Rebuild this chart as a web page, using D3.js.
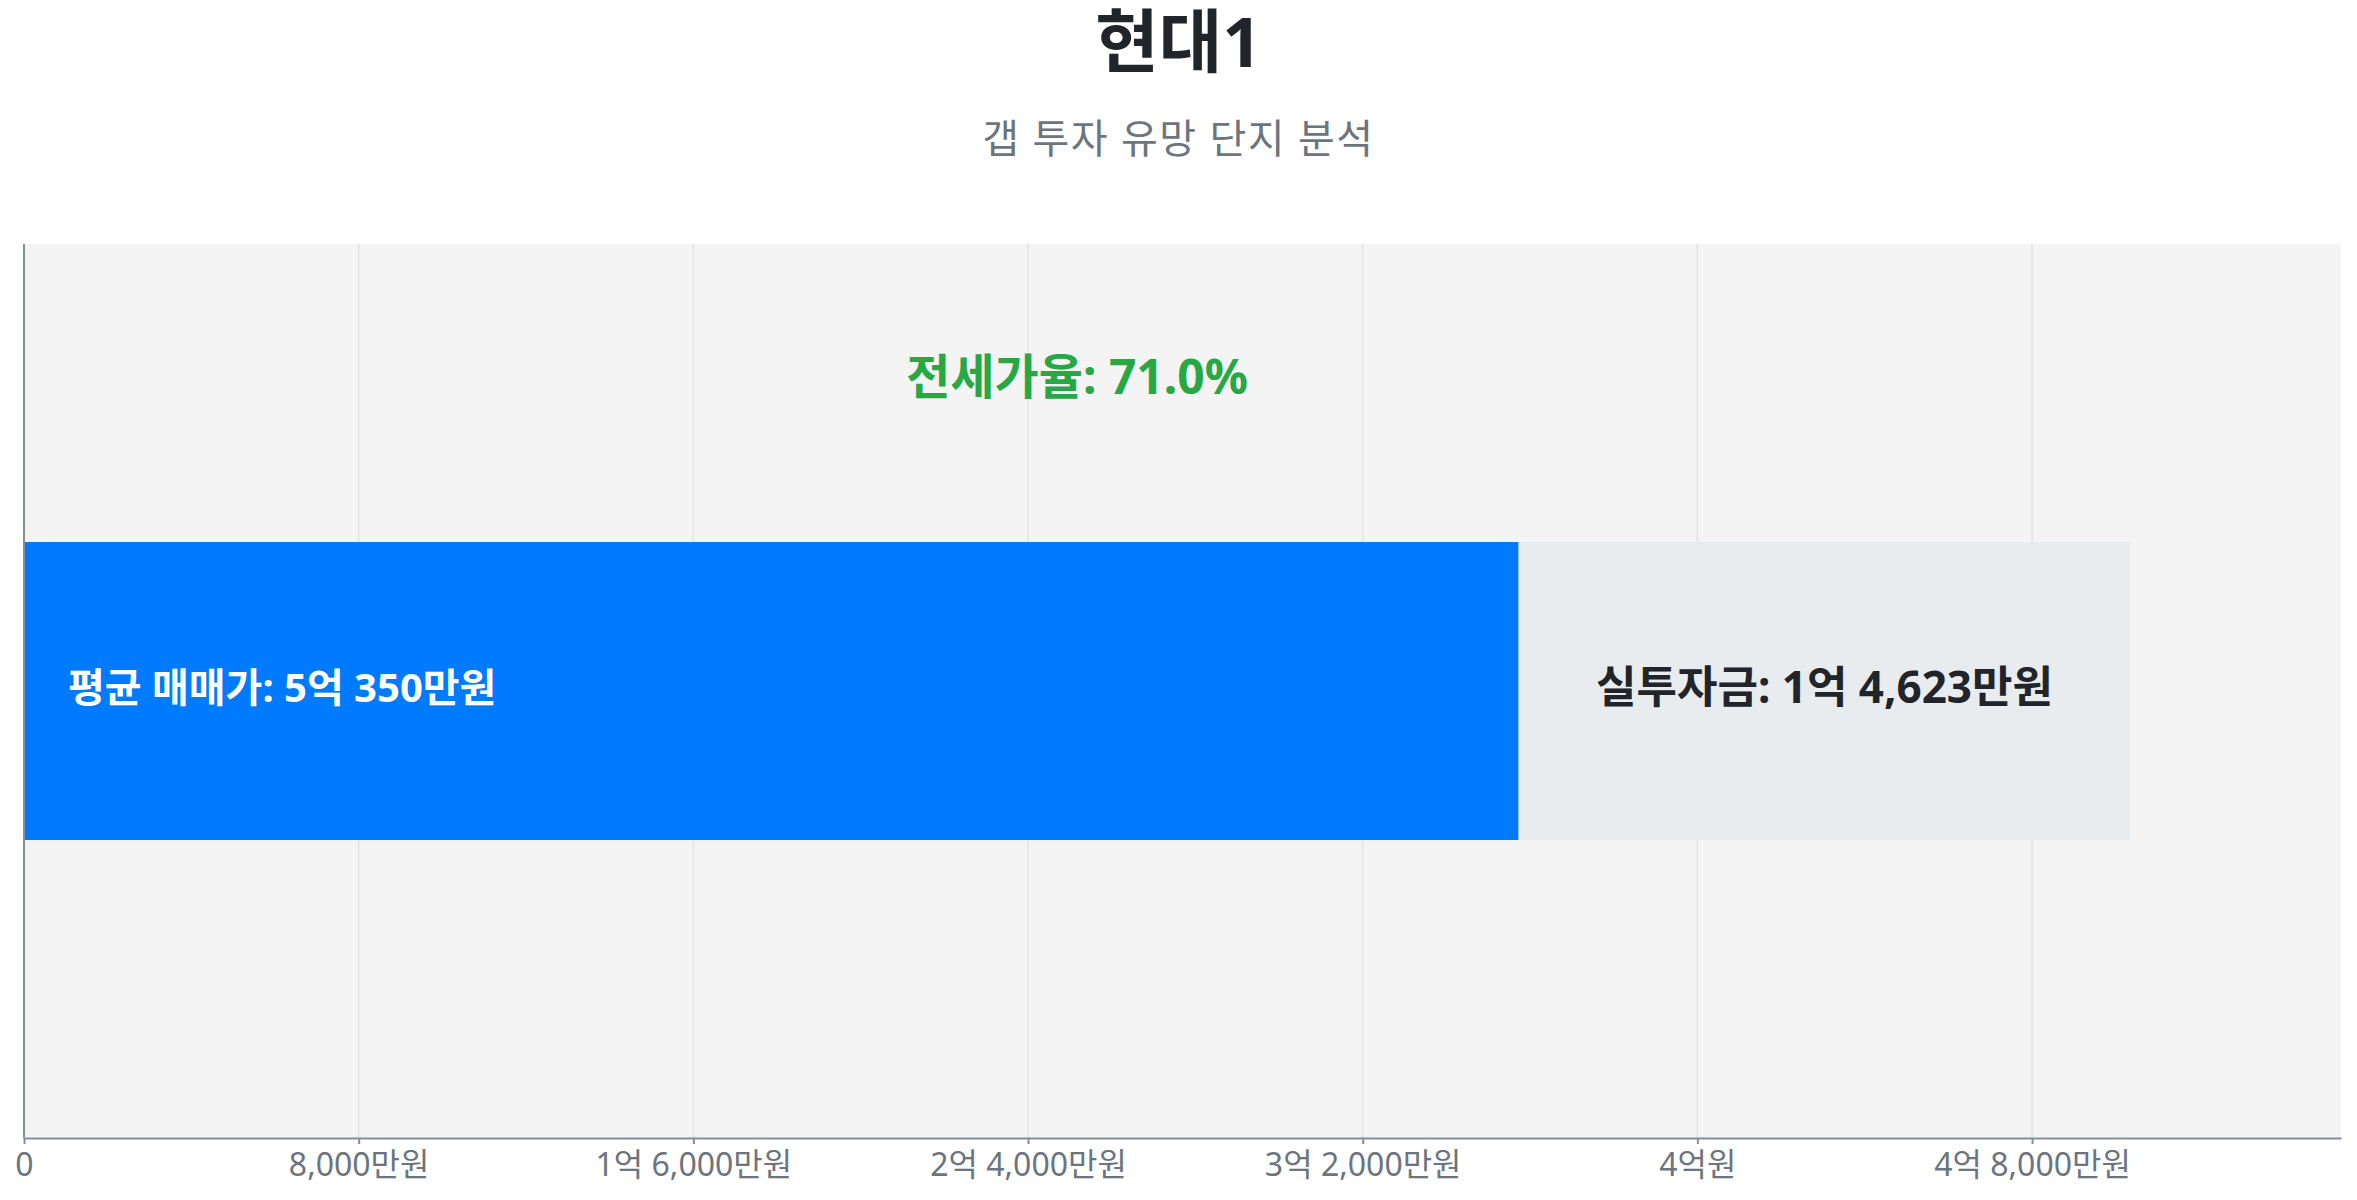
<!DOCTYPE html>
<html>
<head>
<meta charset="utf-8">
<script src="https://cdn.jsdelivr.net/npm/d3@7"></script>
<style>
  body { margin: 0; background: #fff; }
  svg { display: block; font-family: "Noto Sans", "Noto Sans CJK KR", sans-serif; }
</style>
</head>
<body>
<svg id="chart" width="2357" height="1200"></svg>
<script>
// Data (amounts in 만원)
var complexNames = ['현대1']
var avgPrices = [50350]
var gapAmounts = [14623]
var jeonseRates = [71.0]
var tickValues = [0, 8000, 16000, 24000, 32000, 40000, 48000]
var title = '현대1'
var subtitle = '갭 투자 유망 단지 분석'

var svg = d3.select('#chart'),
  width = +svg.attr('width'),
  height = +svg.attr('height')

var margin = { top: 244, right: 16, bottom: 62, left: 24 }
var plotW = width - margin.left - margin.right
var plotH = height - margin.top - margin.bottom

// format 만원 -> "1억 6,000만원"
function fmtWon(v) {
  if (v === 0) return '0'
  var eok = Math.floor(v / 10000)
  var man = Math.round(v % 10000)
  if (eok === 0) return d3.format(',')(man) + '만원'
  if (man === 0) return eok + '억원'
  return eok + '억 ' + d3.format(',')(man) + '만원'
}

// Title
svg.append('text')
  .attr('x', width / 2)
  .attr('y', 40)
  .attr('text-anchor', 'middle')
  .attr('dominant-baseline', 'central')
  .attr('font-size', 69)
  .attr('font-weight', 700)
  .attr('fill', '#212529')
  .text(title)

svg.append('text')
  .attr('x', width / 2)
  .attr('y', 137)
  .attr('text-anchor', 'middle')
  .attr('dominant-baseline', 'central')
  .attr('font-size', 40)
  .attr('letter-spacing', 1.5)
  .attr('fill', '#6c757d')
  .text(subtitle)

var g = svg.append('g')
  .attr('transform', 'translate(' + margin.left + ',' + margin.top + ')')

var x = d3.scaleLinear()
  .domain([0, d3.max(avgPrices) * 1.1])
  .range([0, plotW])

var y = d3.scaleBand()
  .domain(complexNames)
  .range([0, plotH])
  .padding(0.5)

// plot background
g.append('rect')
  .attr('width', plotW)
  .attr('height', plotH)
  .attr('fill', '#f4f4f4')

// grid
g.selectAll('.grid')
  .data(tickValues.slice(1))
  .enter()
  .append('line')
  .attr('class', 'grid')
  .attr('x1', d => x(d))
  .attr('x2', d => x(d))
  .attr('y1', 0)
  .attr('y2', plotH)
  .attr('stroke', '#e6e6e6')
  .attr('stroke-width', 2)

var rows = complexNames.map((name, i) => ({
  name: name,
  price: avgPrices[i],
  gap: gapAmounts[i],
  jeonse: avgPrices[i] - gapAmounts[i],
  rate: jeonseRates[i]
}))

// jeonse part (blue)
g.selectAll('.bar-jeonse')
  .data(rows)
  .enter()
  .append('rect')
  .attr('class', 'bar-jeonse')
  .attr('x', 0)
  .attr('y', d => y(d.name))
  .attr('width', d => x(d.jeonse))
  .attr('height', y.bandwidth())
  .attr('fill', '#007bff')

// gap part (gray)
g.selectAll('.bar-gap')
  .data(rows)
  .enter()
  .append('rect')
  .attr('class', 'bar-gap')
  .attr('x', d => x(d.jeonse))
  .attr('y', d => y(d.name))
  .attr('width', d => x(d.price) - x(d.jeonse))
  .attr('height', y.bandwidth())
  .attr('fill', '#e9ecef')

// labels
g.selectAll('.lbl-price')
  .data(rows)
  .enter()
  .append('text')
  .attr('x', 44)
  .attr('y', d => y(d.name) + y.bandwidth() / 2 - 5)
  .attr('dominant-baseline', 'central')
  .attr('font-size', 40)
  .attr('font-weight', 700)
  .attr('fill', '#fff')
  .text(d => '평균 매매가: ' + fmtWon(d.price))

g.selectAll('.lbl-gap')
  .data(rows)
  .enter()
  .append('text')
  .attr('x', d => (x(d.jeonse) + x(d.price)) / 2)
  .attr('y', d => y(d.name) + y.bandwidth() / 2 - 5)
  .attr('text-anchor', 'middle')
  .attr('dominant-baseline', 'central')
  .attr('font-size', 44)
  .attr('font-weight', 700)
  .attr('fill', '#212529')
  .text(d => '실투자금: ' + fmtWon(d.gap))

g.selectAll('.lbl-rate')
  .data(rows)
  .enter()
  .append('text')
  .attr('x', d => x(d.price / 2))
  .attr('y', d => y(d.name) - y.bandwidth() * 0.56)
  .attr('text-anchor', 'middle')
  .attr('dominant-baseline', 'central')
  .attr('font-size', 48)
  .attr('font-weight', 700)
  .attr('fill', '#28a745')
  .text(d => '전세가율: ' + d.rate.toFixed(1) + '%')

// left axis line
g.append('line')
  .attr('x1', 0).attr('x2', 0)
  .attr('y1', 0).attr('y2', plotH)
  .attr('stroke', '#868e96')
  .attr('stroke-width', 2)

// x axis
var xAxis = g.append('g')
  .attr('transform', 'translate(0,' + plotH + ')')
  .call(d3.axisBottom(x).tickValues(tickValues).tickFormat(fmtWon).tickSize(6).tickSizeOuter(0))

xAxis.select('.domain').attr('stroke', '#868e96').attr('stroke-width', 2)
xAxis.selectAll('.tick line').attr('stroke', '#868e96').attr('stroke-width', 2)
xAxis.selectAll('.tick text')
  .attr('y', 25)
  .attr('dy', null)
  .attr('dominant-baseline', 'central')
  .attr('font-size', 32)
  .attr('font-family', '"Noto Sans", "Noto Sans CJK KR", sans-serif')
  .attr('fill', '#6c757d')
</script>
</body>
</html>
